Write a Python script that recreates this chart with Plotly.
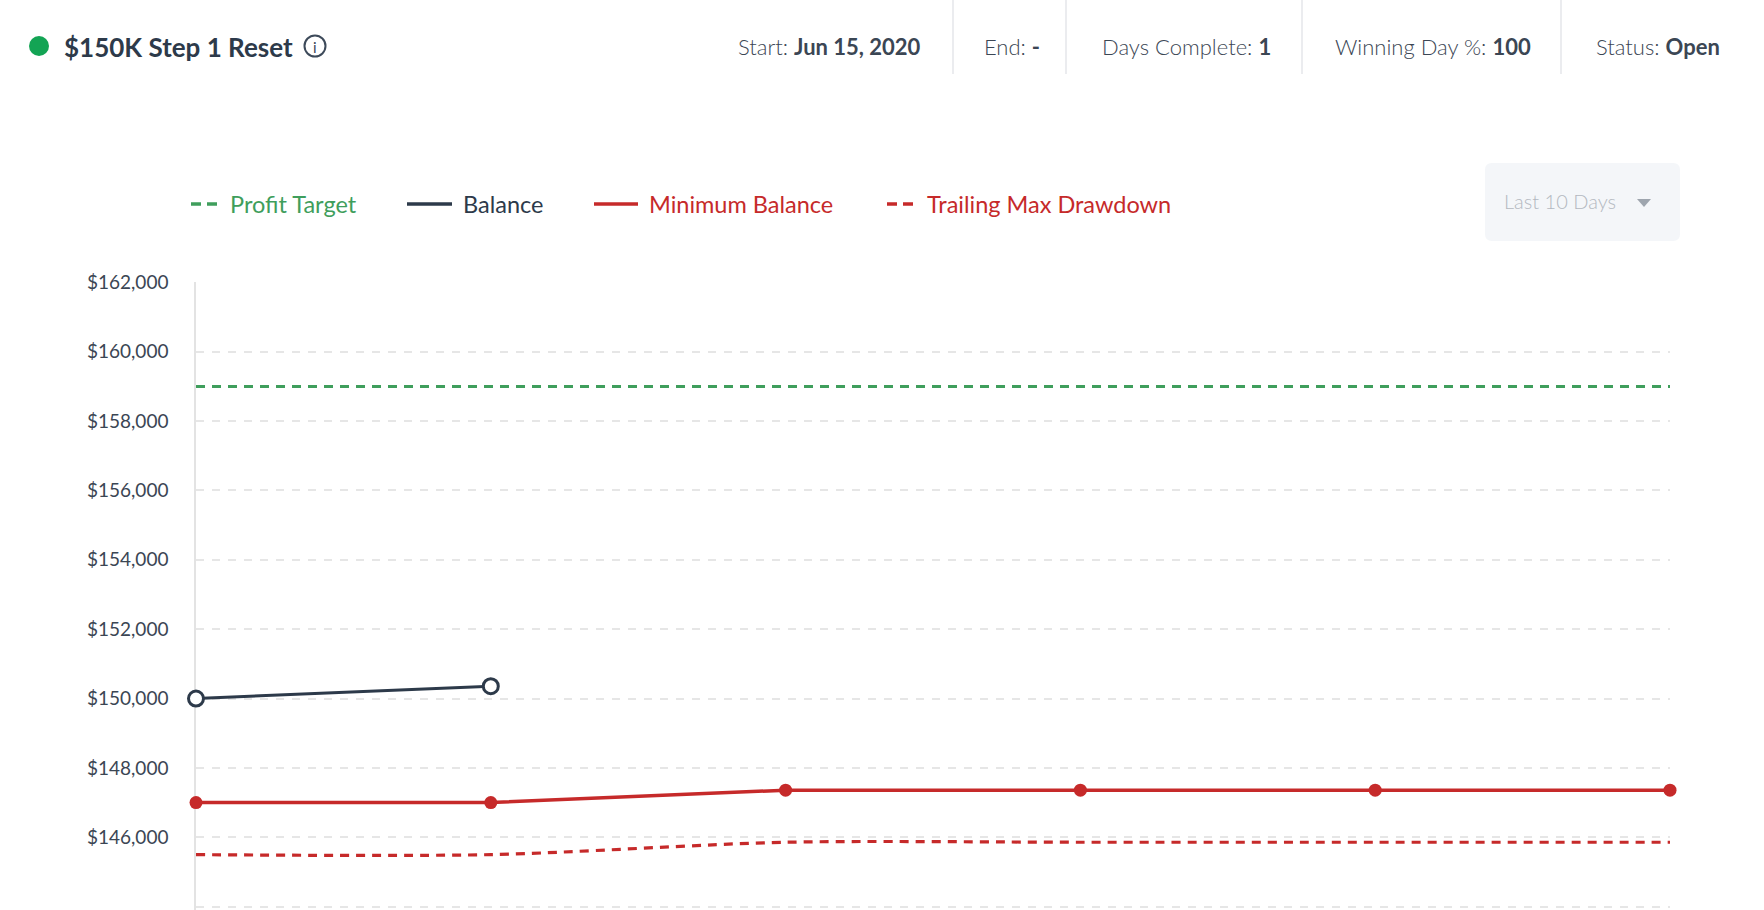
import plotly.graph_objects as go

# Chart data
DAYS = [0, 1, 2, 3, 4, 5]
PROFIT_TARGET = [159000, 159000, 159000, 159000, 159000, 159000]
BALANCE = [150000, 150357]
MIN_BALANCE = [147000, 147000, 147357, 147357, 147357, 147357]
TRAILING_DD = [145500, 145500, 145857, 145857, 145857, 145857]

Y_TICKS = [144000, 146000, 148000, 150000, 152000, 154000, 156000, 158000, 160000, 162000]
Y_TICK_LABELS = ["$144,000", "$146,000", "$148,000", "$150,000", "$152,000",
                 "$154,000", "$156,000", "$158,000", "$160,000", "$162,000"]

LEGEND_NAMES = ["Profit Target", "Balance", "Minimum Balance", "Trailing Max Drawdown"]

HEADER_LABELS = ["Start: ", "End: ", "Days Complete: ", "Winning Day %: ", "Status: "]
HEADER_VALUES = ["Jun 15, 2020", "-", "1", "100", "Open"]

GREEN = "#3f9e5c"
NAVY = "#2d3a4a"
RED = "#c62a2a"
FONT = "Lato"

W, H = 1764, 910
L, R, T, B = 196, 94, 282, 0
PW, PH = W - L - R, H - T - B


def px(x):
    """pixel x -> paper x"""
    return (x - L) / PW


def py(y):
    """pixel y (from top) -> paper y"""
    return (H - B - y) / PH


fig = go.Figure()

fig.add_trace(go.Scatter(
    x=DAYS, y=PROFIT_TARGET, name=LEGEND_NAMES[0], mode="lines",
    line=dict(color=GREEN, width=3, dash="9px,7px"),
))
fig.add_trace(go.Scatter(
    x=DAYS, y=TRAILING_DD, name=LEGEND_NAMES[3], mode="lines",
    line=dict(color=RED, width=3.2, dash="9px,7px", shape="spline", smoothing=0.8),
))
fig.add_trace(go.Scatter(
    x=DAYS, y=MIN_BALANCE, name=LEGEND_NAMES[2], mode="lines+markers",
    line=dict(color=RED, width=3.5),
    marker=dict(size=13, color=RED),
    cliponaxis=False,
))
fig.add_trace(go.Scatter(
    x=DAYS[:len(BALANCE)], y=BALANCE, name=LEGEND_NAMES[1], mode="lines+markers",
    line=dict(color=NAVY, width=3),
    marker=dict(size=15, color="white", line=dict(color=NAVY, width=3)),
    cliponaxis=False,
))

shapes = []
annotations = []

# header: status dot, title, info icon
shapes.append(dict(type="circle", xref="paper", yref="paper",
                   x0=px(29), x1=px(49), y0=py(56), y1=py(36),
                   fillcolor="#13a454", line=dict(width=0)))
annotations.append(dict(x=px(62), y=py(47), xref="paper", yref="paper",
                        xanchor="left", yanchor="middle", showarrow=False,
                        text="<b>$150K Step 1 Reset</b>",
                        font=dict(family=FONT, size=26, color=NAVY)))
shapes.append(dict(type="circle", xref="paper", yref="paper",
                   x0=px(304.5), x1=px(325.5), y0=py(56.5), y1=py(35.5),
                   line=dict(color="#3d4a5a", width=2)))
annotations.append(dict(x=px(315), y=py(47), xref="paper", yref="paper",
                        xanchor="center", yanchor="middle", showarrow=False,
                        text="i", font=dict(family=FONT, size=15, color="#3d4a5a")))

# header stats with separators
stat_centers = [829, 1012, 1186, 1433, 1658]
for cx, lab, val in zip(stat_centers, HEADER_LABELS, HEADER_VALUES):
    annotations.append(dict(x=px(cx), y=py(47), xref="paper", yref="paper",
                            xanchor="center", yanchor="middle", showarrow=False,
                            text=lab + "<b>" + val + "</b>",
                            font=dict(family=FONT, size=22, color="#3b4654", weight=300)))
for sx in [953, 1066, 1302, 1561]:
    shapes.append(dict(type="line", xref="paper", yref="paper",
                       x0=px(sx), x1=px(sx), y0=py(0), y1=py(74),
                       line=dict(color="#e4e6ea", width=1.5)))

# custom legend row
legend_items = [
    (191, 219, 228, GREEN, "10px,6px"),
    (407, 452, 461, NAVY, "solid"),
    (594, 638, 647, RED, "solid"),
    (887, 917, 925, RED, "10px,6px"),
]
for (lx0, lx1, tx, col, dash), name in zip(legend_items, LEGEND_NAMES):
    shapes.append(dict(type="line", xref="paper", yref="paper",
                       x0=px(lx0), x1=px(lx1), y0=py(204), y1=py(204),
                       line=dict(color=col, width=3.5, dash=dash)))
    annotations.append(dict(x=px(tx), y=py(204), xref="paper", yref="paper",
                            xanchor="left", yanchor="middle", showarrow=False,
                            text=name, font=dict(family=FONT, size=23.5, color=col)))

# "Last 10 Days" dropdown
bx0, bx1, by0, by1, rr = 1485, 1680, 163, 241, 7
path = (f"M {px(bx0 + rr)} {py(by0)} L {px(bx1 - rr)} {py(by0)} "
        f"Q {px(bx1)} {py(by0)} {px(bx1)} {py(by0 + rr)} "
        f"L {px(bx1)} {py(by1 - rr)} Q {px(bx1)} {py(by1)} {px(bx1 - rr)} {py(by1)} "
        f"L {px(bx0 + rr)} {py(by1)} Q {px(bx0)} {py(by1)} {px(bx0)} {py(by1 - rr)} "
        f"L {px(bx0)} {py(by0 + rr)} Q {px(bx0)} {py(by0)} {px(bx0 + rr)} {py(by0)} Z")
shapes.append(dict(type="path", xref="paper", yref="paper", path=path,
                   fillcolor="#f4f6f9", line=dict(width=0), layer="below"))
annotations.append(dict(x=px(1502), y=py(201), xref="paper", yref="paper",
                        xanchor="left", yanchor="middle", showarrow=False,
                        text="Last 10 Days",
                        font=dict(family=FONT, size=20, color="#b3b8c0", weight=300)))
shapes.append(dict(type="path", xref="paper", yref="paper",
                   path=f"M {px(1637)} {py(199)} L {px(1651)} {py(199)} L {px(1644)} {py(207)} Z",
                   fillcolor="#9ea5ae", line=dict(width=0)))

fig.update_layout(
    width=W, height=H,
    margin=dict(l=L, r=R, t=T, b=B),
    paper_bgcolor="white",
    plot_bgcolor="white",
    showlegend=False,
    font=dict(family=FONT, color="#3b4654"),
    shapes=shapes,
    annotations=annotations,
)
fig.update_xaxes(
    range=[0, 5],
    showgrid=False, zeroline=False, showticklabels=False, showline=False,
)
fig.update_yaxes(
    range=[143903, 162010],
    tickvals=Y_TICKS, ticktext=Y_TICK_LABELS,
    tickfont=dict(family=FONT, size=19, color="#3b4654"),
    ticklabelstandoff=22,
    showgrid=True, gridcolor="#e6e6e6", gridwidth=1.5, griddash="8px,8px",
    zeroline=False,
    showline=True, linecolor="#e3e3e3", linewidth=1.5,
    layer="below traces",
)

fig.write_html("out.html", config={"displayModeBar": False},
               post_script="document.body.style.margin='0';")
